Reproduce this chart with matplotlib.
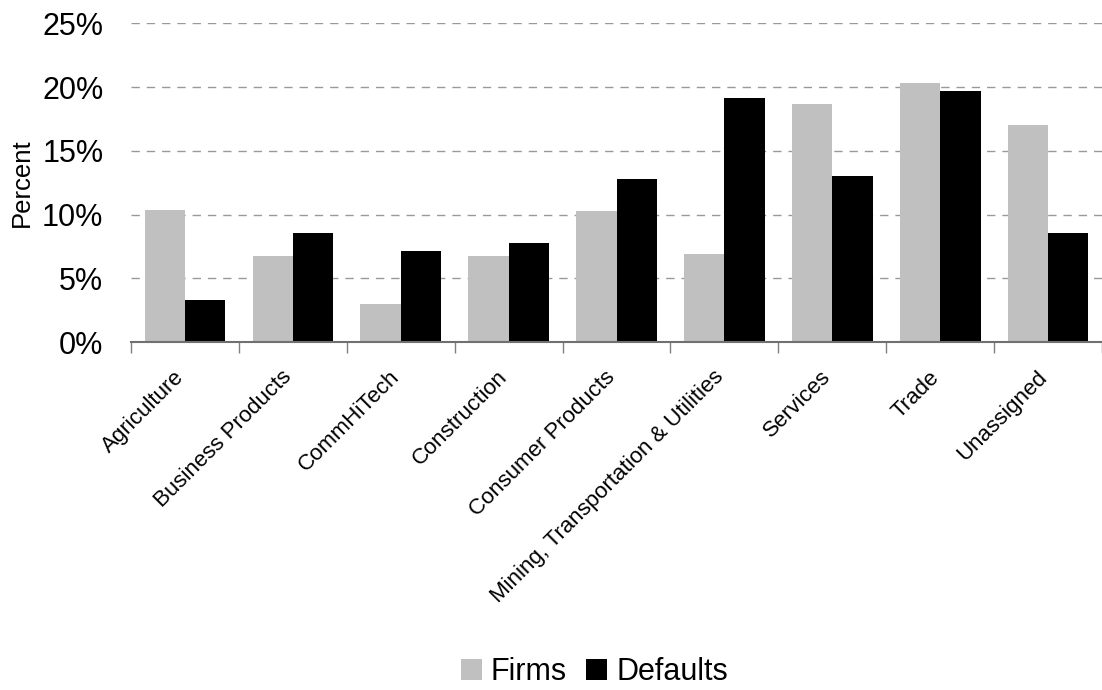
import numpy as np
import matplotlib
matplotlib.use('Agg')
import matplotlib.pyplot as plt
import matplotlib.transforms as mtransforms
from matplotlib.ticker import FuncFormatter, FixedLocator

plt.rcParams['font.family'] = ['Liberation Sans', 'DejaVu Sans']

# industry shares of firms and of defaults (percent)
sectors = ['Agriculture', 'Business Products', 'CommHiTech', 'Construction',
           'Consumer Products', 'Mining, Transportation & Utilities',
           'Services', 'Trade', 'Unassigned']
firms = [10.35, 6.75, 3.0, 6.75, 10.3, 6.9, 18.65, 20.3, 17.0]
defaults = [3.3, 8.55, 7.15, 7.75, 12.8, 19.15, 13.0, 19.7, 8.55]

fig = plt.figure(figsize=(11.02, 6.90), dpi=100)
ax = fig.add_axes([0.1189, 0.5043, 0.8811, 0.4619])

x = np.arange(len(sectors))
w = 0.374
ax.bar(x - w / 2, firms, w, color='#c0c0c0', label='Firms', zorder=3)
ax.bar(x + w / 2, defaults, w, color='#000000', label='Defaults', zorder=3)

ax.set_xlim(-0.5, len(sectors) - 0.5)
ax.set_ylim(0, 25)
ax.set_yticks(np.arange(0, 26, 5))
ax.yaxis.set_major_formatter(FuncFormatter(lambda v, p: '%d%%' % v))
ax.tick_params(axis='y', length=0, pad=20, labelsize=22)
ax.grid(axis='y', color='#999999', linestyle=(0, (6, 5)), linewidth=1, zorder=0)

# category labels sit under the bars, tick marks on the boundaries
ax.set_xticks(x)
ax.set_xticklabels(sectors, rotation=45, ha='right', va='top',
                   rotation_mode='anchor', fontsize=16)
ax.tick_params(axis='x', which='major', length=0, pad=22)
shift = mtransforms.ScaledTranslation(-8.5 / 72, 4.3 / 72, fig.dpi_scale_trans)
for lbl in ax.get_xticklabels():
    lbl.set_transform(lbl.get_transform() + shift)
ax.xaxis.set_minor_locator(FixedLocator(np.arange(-0.5, len(sectors), 1)))
ax.tick_params(axis='x', which='minor', length=8, width=1, color='#808080')

for s in ['top', 'right', 'left']:
    ax.spines[s].set_visible(False)
ax.spines['bottom'].set_color('#707070')
ax.spines['bottom'].set_linewidth(1.5)
ax.spines['bottom'].set_zorder(4)

ax.set_ylabel('Percent', fontsize=18.5)
ax.yaxis.set_label_coords(-0.1, 0.5)

fig.legend(loc='center', bbox_to_anchor=(594.5 / 1102, 1 - 672 / 690), ncol=2,
           frameon=False, fontsize=22, handlelength=0.69, handleheight=0.69,
           handletextpad=0.3, columnspacing=0.63, borderpad=0)

fig.savefig('out.png', dpi=100)
